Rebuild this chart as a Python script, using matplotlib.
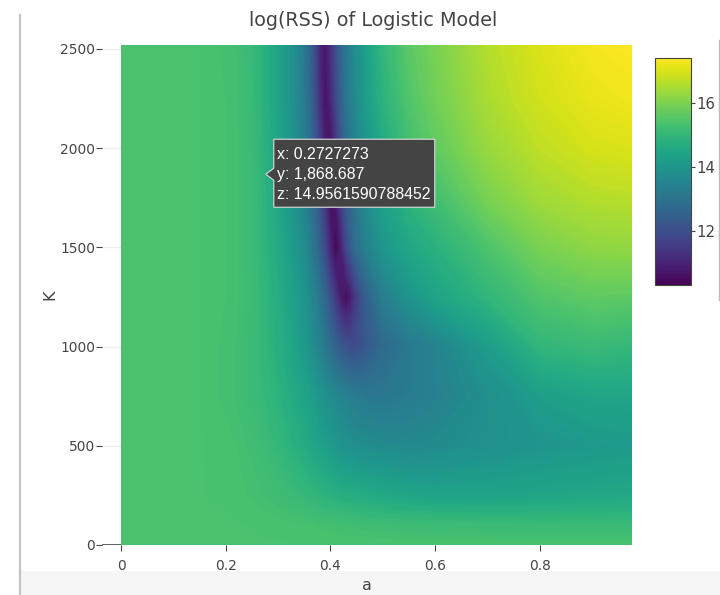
import numpy as np
import matplotlib
matplotlib.use('Agg')
import matplotlib.pyplot as plt
from matplotlib import transforms
from matplotlib.patches import Polygon, Rectangle
from matplotlib.lines import Line2D
from matplotlib.cm import ScalarMappable
from matplotlib.colors import Normalize

# grid (a across, K down the rows)
a_vals = [0, 0.15, 0.22, 0.26, 0.30, 0.33, 0.35, 0.36, 0.37, 0.38, 0.39, 0.40, 0.41,
          0.42, 0.43, 0.44, 0.45, 0.47, 0.50, 0.55, 0.60, 0.70, 0.80, 0.90, 0.98]
K_vals = [0, 100, 250, 500, 750, 1000, 1250, 1500, 1750, 2000, 2250, 2525]

z_K0 = [15.35] * 25
z_K100 = [15.35, 15.35, 15.35, 15.34, 15.33, 15.32, 15.31, 15.30, 15.30, 15.29, 15.28, 15.27, 15.26,
          15.25, 15.25, 15.24, 15.23, 15.22, 15.20, 15.17, 15.15, 15.12, 15.10, 15.10, 15.10]
z_K250 = [15.35, 15.35, 15.32, 15.28, 15.20, 15.10, 15.05, 15.00, 14.95, 14.90, 14.85, 14.82, 14.78,
          14.75, 14.72, 14.70, 14.68, 14.62, 14.55, 14.45, 14.40, 14.40, 14.45, 14.50, 14.55]
z_K500 = [15.35, 15.35, 15.30, 15.20, 15.00, 14.80, 14.65, 14.55, 14.45, 14.35, 14.25, 14.15, 14.05,
          13.95, 13.90, 13.85, 13.80, 13.75, 13.70, 13.65, 13.70, 13.85, 14.00, 14.10, 14.15]
z_K750 = [15.35, 15.35, 15.25, 15.10, 14.85, 14.60, 14.40, 14.30, 14.15, 14.00, 13.85, 13.75, 13.60,
          13.50, 13.40, 13.30, 13.22, 13.15, 13.12, 13.22, 13.40, 13.80, 14.25, 14.45, 14.45]
z_K1000 = [15.35, 15.35, 15.25, 15.10, 14.75, 14.40, 14.10, 13.90, 13.65, 13.40, 13.10, 12.80, 12.50,
           12.25, 12.10, 11.95, 11.95, 12.25, 12.70, 13.15, 13.45, 14.20, 14.95, 15.10, 15.00]
z_K1250 = [15.35, 15.35, 15.28, 15.10, 14.70, 14.30, 13.95, 13.70, 13.40, 13.00, 12.55, 12.00, 11.40,
           10.80, 10.45, 10.90, 11.60, 12.50, 13.30, 13.95, 14.40, 14.95, 15.45, 15.65, 15.60]
z_K1500 = [15.35, 15.35, 15.28, 15.05, 14.60, 14.10, 13.70, 13.35, 12.95, 12.40, 11.80, 11.00, 10.35,
           10.90, 11.80, 12.40, 12.90, 13.40, 14.00, 14.50, 14.80, 15.40, 15.95, 16.20, 16.25]
z_K1750 = [15.35, 15.35, 15.28, 15.05, 14.50, 13.95, 13.45, 13.05, 12.60, 12.00, 11.30, 10.50, 10.80,
           11.60, 12.30, 12.80, 13.20, 13.75, 14.35, 14.90, 15.25, 15.95, 16.40, 16.60, 16.65]
z_K2000 = [15.35, 15.35, 15.28, 15.02, 14.45, 13.85, 13.30, 12.85, 12.30, 11.60, 10.80, 10.60, 11.30,
           12.10, 12.70, 13.15, 13.50, 14.00, 14.60, 15.25, 15.65, 16.30, 16.70, 16.95, 17.00]
z_K2250 = [15.35, 15.35, 15.28, 15.00, 14.40, 13.80, 13.20, 12.70, 12.00, 11.20, 10.60, 11.00, 11.80,
           12.50, 13.00, 13.40, 13.75, 14.25, 14.85, 15.45, 15.85, 16.50, 16.90, 17.15, 17.25]
z_K2525 = [15.35, 15.35, 15.25, 15.00, 14.40, 13.80, 13.10, 12.60, 11.90, 11.00, 10.70, 11.30, 11.90,
           12.60, 13.10, 13.50, 13.85, 14.35, 15.00, 15.60, 15.95, 16.60, 17.00, 17.30, 17.40]

z_min, z_max = 10.3, 17.4
cbar_ticks = [12, 14, 16]
x_ticks = [0, 0.2, 0.4, 0.6, 0.8]
y_ticks = [0, 500, 1000, 1500, 2000, 2500]

# hover label shown in the screenshot
hover_a = 0.2727273
hover_K = 1868.687
hover_z = 14.9561590788452

Z = np.array([z_K0, z_K100, z_K250, z_K500, z_K750, z_K1000, z_K1250,
              z_K1500, z_K1750, z_K2000, z_K2250, z_K2525])

fig = plt.figure(figsize=(7.2, 5.95), dpi=100)
fig.patch.set_facecolor('white')

# screenshot frame bits
fig.add_artist(Rectangle((21 / 720, 0), 1, 24 / 595, transform=fig.transFigure,
                         facecolor='#f6f6f6', edgecolor='none', zorder=0))
fig.add_artist(Line2D([20 / 720, 20 / 720], [0, 580 / 595], transform=fig.transFigure,
                      color='#c4c4c4', lw=1.6))

ax = fig.add_axes([102 / 720, 50 / 595, 530 / 720, 500 / 595])
norm = Normalize(vmin=z_min, vmax=z_max)
ax.contourf(a_vals, K_vals, Z, levels=np.linspace(z_min, z_max, 160), cmap='viridis',
            norm=norm, extend='both', antialiased=False, zorder=2)
ax.set_xlim(-0.0363, 0.976)
ax.set_ylim(0, 2520)

for yt in y_ticks[1:]:
    ax.axhline(yt, color='#eeeeee', lw=1, zorder=1)
ax.axhline(0, color='#444444', lw=1.2, zorder=1)

for s in ax.spines.values():
    s.set_visible(False)
ax.set_xticks(x_ticks)
ax.set_xticklabels(['0', '0.2', '0.4', '0.6', '0.8'])
ax.set_yticks(y_ticks)
ax.tick_params(axis='both', length=4, width=0.8, color='#444444', labelcolor='#444444',
               labelsize=9.9)
ax.tick_params(axis='x', pad=6)
ax.tick_params(axis='y', pad=1)
ax.set_xlabel('a', fontsize=11.5, color='#444444', labelpad=4)
ax.set_ylabel('K', fontsize=11.5, color='#444444', labelpad=2)

fig.text(373 / 720, 1 - 21 / 595, 'log(RSS) of Logistic Model', ha='center', va='center',
         fontsize=13.8, color='#444444')

# colour bar
cax = fig.add_axes([655 / 720, 1 - 285 / 595, 36 / 720, 227 / 595])
cb = fig.colorbar(ScalarMappable(norm=norm, cmap='viridis'), cax=cax, ticks=cbar_ticks)
cb.outline.set_edgecolor('#444444')
cb.outline.set_linewidth(0.8)
cax.tick_params(length=3, width=0.8, color='#444444', labelcolor='#444444', labelsize=10.8, pad=1)

fig.add_artist(Line2D([719 / 720, 719 / 720], [1 - 300 / 595, 1 - 40 / 595], transform=fig.transFigure,
                      color='#bbbbbb', lw=1))

# hover label
fig.canvas.draw()
tip = ax.transData.transform((hover_a, hover_K))
box = np.array([(2, 0), (10, 6), (10, 35), (171, 35), (171, -33), (10, -33), (10, -6)]) + tip
fig.add_artist(Polygon(box, closed=True, transform=transforms.IdentityTransform(),
                       facecolor='#444444', edgecolor='#dddddd', lw=0.8, zorder=10))
lines = ['x: %.7f' % hover_a, 'y: {:,.3f}'.format(hover_K), 'z: ' + repr(hover_z)]
for i, s in enumerate(lines):
    fig.text(tip[0] + 13, tip[1] + 20 - 20 * i, s, transform=transforms.IdentityTransform(),
             ha='left', va='center', color='white', fontsize=11.4,
             family=['Liberation Sans', 'DejaVu Sans'], zorder=11)

fig.savefig('out.png', dpi=100)
